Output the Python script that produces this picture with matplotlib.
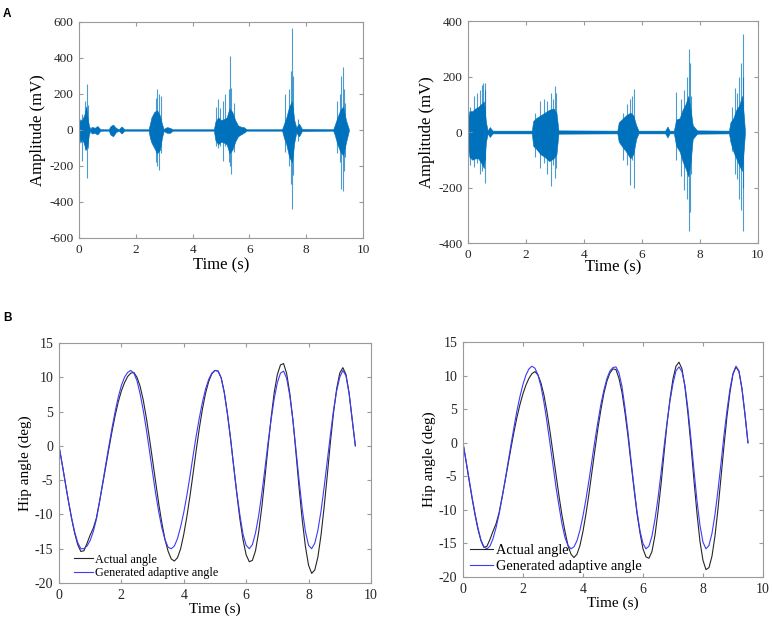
import numpy as np
import matplotlib
matplotlib.use("Agg")
import matplotlib.pyplot as plt

plt.rcParams['font.family'] = ['Liberation Serif', 'DejaVu Serif']
plt.rcParams['axes.unicode_minus'] = False

EMG_BLUE = '#0072BD'

# ---- EMG panels: burst envelopes (t, upper, lower) in mV
emg1_t = [0.00, 0.05, 0.10, 0.15, 0.20, 0.25, 0.30, 0.35, 0.40, 0.45, 0.55, 0.65, 0.75, 0.85,
          1.05, 1.10, 1.20, 1.30, 1.40, 1.50, 1.60, 2.45, 2.50, 2.55, 2.65, 2.75, 2.85, 2.92,
          2.98, 3.10, 3.20, 3.30, 4.75, 4.80, 4.90, 5.00, 5.10, 5.20, 5.30, 5.40, 5.50, 5.60,
          5.70, 5.80, 5.90, 7.15, 7.22, 7.30, 7.40, 7.50, 7.58, 7.65, 7.75, 7.85, 8.95, 9.00,
          9.10, 9.20, 9.30, 9.40, 9.50]
emg1_hi = [40, 60, 50, 70, 90, 130, 70, 25, 5, 18, 12, 22, 5, 4,
           4, 20, 30, 12, 4, 20, 4, 4, 35, 70, 100, 110, 80, 35,
           6, 16, 12, 4, 4, 45, 70, 55, 60, 70, 120, 100, 55, 25,
           18, 16, 4, 4, 35, 70, 130, 160, 55, 15, 35, 6, 4, 25,
           70, 110, 130, 55, 6]
emg1_lo = [-40, -70, -55, -65, -90, -110, -80, -25, -5, -20, -16, -25, -5, -4,
           -4, -25, -35, -12, -4, -20, -4, -4, -45, -70, -100, -130, -110, -45,
           -6, -16, -16, -4, -4, -55, -80, -65, -70, -80, -130, -110, -65, -35,
           -25, -16, -4, -4, -45, -80, -150, -180, -70, -15, -35, -6, -4, -25,
           -80, -120, -140, -70, -6]
# isolated spikes (t, upper, lower)
spk1_t = [0.12, 0.22, 0.28, 0.31, 2.70, 2.76, 2.82, 2.88, 4.84, 4.90, 4.98, 5.08, 5.14,
          5.28, 5.31, 5.35, 5.45, 7.26, 7.40, 7.46, 7.50, 7.53, 7.72, 9.10, 9.18, 9.24,
          9.28, 9.33, 9.38]
spk1_hi = [90, 160, 255, 140, 180, 230, 200, 190, 130, 170, 120, 160, 200,
           230, 410, 235, 150, 200, 230, 330, 565, 300, 60, 160, 200, 300,
           350, 230, 150]
spk1_lo = [-175, -110, -265, -100, -180, -200, -220, -130, -90, -100, -90, -170, -90,
           -180, -200, -245, -120, -120, -200, -300, -440, -250, -60, -130, -180, -330,
           -340, -230, -150]

emg2_t = [0.00, 0.05, 0.15, 0.25, 0.35, 0.45, 0.55, 0.62, 0.68, 0.75, 0.85, 2.20, 2.25,
          2.35, 2.50, 2.65, 2.80, 2.95, 3.05, 3.12, 5.15, 5.20, 5.30, 5.45, 5.60, 5.70,
          5.80, 5.88, 6.80, 6.88, 6.95, 7.10, 7.18, 7.30, 7.40, 7.50, 7.60, 7.68, 7.75,
          7.90, 9.00, 9.05, 9.15, 9.25, 9.35, 9.45, 9.52, 9.55]
emg2_hi = [50, 75, 75, 85, 90, 100, 110, 35, 5, 18, 5, 5, 40,
           50, 60, 70, 80, 85, 70, 6, 5, 35, 45, 60, 70, 60,
           25, 5, 5, 20, 5, 5, 45, 50, 80, 100, 130, 80, 25,
           6, 5, 35, 50, 80, 95, 130, 50, 5]
emg2_lo = [-50, -90, -100, -95, -95, -110, -130, -35, -5, -18, -5, -5, -50,
           -60, -80, -90, -105, -95, -80, -6, -5, -35, -50, -70, -95, -80,
           -25, -5, -5, -20, -5, -5, -50, -70, -105, -130, -160, -105, -25,
           -6, -5, -35, -70, -95, -120, -140, -50, -5]
spk2_t = [0.08, 0.20, 0.30, 0.40, 0.48, 0.51, 0.57, 0.60, 2.30, 2.50, 2.62, 2.72, 2.86,
          2.92, 2.99, 3.04, 5.35, 5.50, 5.60, 5.66, 5.71, 7.18, 7.35, 7.46, 7.55, 7.61,
          7.65, 7.70, 9.10, 9.20, 9.28, 9.35, 9.42, 9.47, 9.50]
spk2_hi = [90, 130, 140, 150, 170, 175, 150, 175, 70, 110, 120, 110, 140,
           120, 165, 140, 70, 100, 120, 130, 155, 145, 120, 150, 200, 300,
           250, 130, 90, 160, 140, 200, 250, 355, 200]
spk2_lo = [-120, -125, -110, -150, -140, -120, -185, -100, -90, -130, -110, -150, -195,
           -120, -165, -130, -100, -120, -190, -100, -200, -100, -160, -210, -240, -355,
           -290, -150, -70, -150, -170, -240, -280, -355, -200]

# ---- hip angle panels, sampled every 0.1 s from 0 to 9.5 s
hip_t = np.linspace(0, 9.5, 96)
actual_1 = [0, -2.6, -5.3, -8.0, -10.5, -12.7, -14.4, -15.4, -15.3, -14.2,
            -13.0, -12.0, -10.5, -8.1, -5.6, -3.0, -0.4, 2.1, 4.4, 6.4,
            8.0, 9.2, 10.1, 10.6, 10.7, 10.0, 8.7, 6.7, 4.1, 1.1,
            -2.1, -5.3, -8.5, -11.3, -13.7, -15.4, -16.5, -16.8, -16.3, -15.0,
            -12.9, -10.3, -7.3, -4.0, -0.6, 2.6, 5.4, 7.7, 9.4, 10.5,
            11.0, 10.9, 9.9, 7.8, 4.7, 1.1, -3.0, -7.0, -10.7, -13.7,
            -15.9, -16.9, -16.7, -15.3, -12.6, -9.0, -4.7, -0.2, 4.1, 7.8,
            10.4, 11.8, 12.0, 10.5, 7.6, 3.7, -1.2, -6.3, -10.9, -14.7,
            -17.4, -18.6, -18.1, -16.2, -13.0, -8.9, -4.3, 0.5, 4.8, 8.3,
            10.6, 11.4, 10.4, 7.7, 3.8, 0]
generated_1 = [0, -2.6, -5.3, -8.0, -10.4, -12.5, -14.1, -15.0, -15.0, -14.6,
               -13.8, -12.5, -10.7, -8.2, -5.4, -2.7, 0.0, 2.6, 5.0, 7.1,
               8.8, 10.0, 10.7, 11.0, 10.6, 9.5, 7.6, 5.2, 2.4, -0.7,
               -3.9, -7.0, -9.7, -12.0, -13.7, -14.8, -15.0, -14.6, -13.5, -11.8,
               -9.7, -7.2, -4.4, -1.4, 1.5, 4.1, 6.4, 8.3, 9.7, 10.6,
               11.0, 10.9, 9.9, 7.7, 4.6, 1.0, -3.0, -6.8, -10.1, -12.9,
               -14.5, -15.0, -14.4, -12.7, -10.2, -7.0, -3.4, 0.4, 3.8, 6.9,
               9.2, 10.6, 10.9, 9.8, 7.3, 3.7, -0.7, -5.2, -9.3, -12.5,
               -14.5, -15.0, -14.2, -12.3, -9.5, -6.0, -2.2, 1.6, 5.2, 8.0,
               10.0, 11.0, 10.2, 7.6, 3.8, 0]
actual_2 = [0, -2.7, -5.5, -8.2, -10.7, -12.9, -14.6, -15.6, -15.4, -14.4,
            -13.2, -12.1, -10.5, -8.2, -5.8, -3.3, -0.8, 1.6, 3.8, 5.7,
            7.3, 8.6, 9.6, 10.3, 10.6, 10.1, 8.9, 7.1, 4.6, 1.7,
            -1.5, -4.7, -7.9, -10.8, -13.2, -15.3, -16.6, -17.1, -16.6, -15.3,
            -13.2, -10.6, -7.6, -4.3, -1.0, 2.2, 5.0, 7.4, 9.2, 10.4,
            11.0, 10.9, 9.6, 7.5, 4.5, 1.0, -3.0, -6.8, -10.5, -13.4,
            -15.8, -17.0, -17.2, -16.2, -13.8, -10.3, -6.3, -1.7, 2.7, 6.5,
            9.5, 11.4, 12.0, 11.0, 8.3, 4.3, -0.4, -5.6, -10.5, -14.7,
            -17.5, -18.9, -18.6, -16.9, -13.9, -9.9, -5.2, -0.5, 3.9, 7.5,
            10.2, 11.3, 10.6, 8.0, 4.2, 0]
generated_2 = [0, -2.6, -5.3, -8.0, -10.5, -12.7, -14.5, -15.5, -15.8, -15.4,
               -14.3, -12.7, -10.7, -8.3, -5.7, -3.0, -0.3, 2.3, 4.8, 6.9,
               8.7, 10.1, 11.0, 11.4, 11.1, 10.1, 8.4, 6.0, 3.1, -0.1,
               -3.3, -6.6, -9.4, -12.1, -14.1, -15.3, -15.8, -15.5, -14.6, -13.0,
               -10.9, -8.4, -5.6, -2.6, 0.4, 3.2, 5.8, 7.9, 9.6, 10.7,
               11.2, 11.3, 10.4, 8.4, 5.2, 1.6, -2.5, -6.5, -10.2, -13.1,
               -15.0, -15.8, -15.4, -13.9, -11.4, -8.3, -4.6, -0.7, 3.0, 6.2,
               8.8, 10.7, 11.3, 10.6, 8.5, 5.0, 0.6, -4.1, -8.6, -12.3,
               -14.8, -15.8, -15.3, -13.5, -10.7, -7.1, -3.1, 1.1, 4.8, 8.0,
               10.3, 11.4, 10.7, 8.1, 4.3, 0]

legend_labels = ['Actual angle', 'Generated adaptive angle']

fig = plt.figure(figsize=(7.72, 6.22), dpi=100)

ax1 = fig.add_axes([0.1023, 0.6174, 0.3679, 0.3473])
ax2 = fig.add_axes([0.6062, 0.6093, 0.3756, 0.3569])
ax3 = fig.add_axes([0.0764, 0.0627, 0.4041, 0.3859])
ax4 = fig.add_axes([0.5997, 0.0723, 0.3886, 0.3778])


def style(ax, tick_size):
    for s in ax.spines.values():
        s.set_color('#9a9a9a')
        s.set_linewidth(0.8)
    ax.tick_params(direction='in', top=True, right=True, length=3,
                   color='#9a9a9a', labelcolor='#262626', labelsize=tick_size, pad=4)


def draw_emg(ax, t, hi, lo, st, shi, slo):
    ax.fill_between(t, lo, hi, color=EMG_BLUE, lw=0.4, edgecolor=EMG_BLUE)
    ax.vlines(st, slo, shi, color=EMG_BLUE, lw=0.8, alpha=0.7)


draw_emg(ax1, emg1_t, emg1_hi, emg1_lo, spk1_t, spk1_hi, spk1_lo)
ax1.set_xlim(0, 10)
ax1.set_ylim(-600, 600)
ax1.set_xticks([0, 2, 4, 6, 8, 10])
ax1.set_yticks([-600, -400, -200, 0, 200, 400, 600])
ax1.set_xlabel('Time (s)', fontsize=12, labelpad=1)
ax1.set_ylabel('Amplitude (mV)', fontsize=12, labelpad=2)
style(ax1, 9.5)

draw_emg(ax2, emg2_t, emg2_hi, emg2_lo, spk2_t, spk2_hi, spk2_lo)
ax2.set_xlim(0, 10)
ax2.set_ylim(-400, 400)
ax2.set_xticks([0, 2, 4, 6, 8, 10])
ax2.set_yticks([-400, -200, 0, 200, 400])
ax2.set_xlabel('Time (s)', fontsize=12, labelpad=-1)
ax2.set_ylabel('Amplitude (mV)', fontsize=12, labelpad=2)
style(ax2, 9.5)

for ax, act, gen, fs, lx in [(ax3, actual_1, generated_1, 8.7, 0.035),
                             (ax4, actual_2, generated_2, 10.4, 0.01)]:
    ax.plot(hip_t, act, color='#262626', lw=0.8, label=legend_labels[0])
    ax.plot(hip_t, gen, color='#3b3bff', lw=0.8, label=legend_labels[1])
    ax.set_xlim(0, 10)
    ax.set_ylim(-20, 15)
    ax.set_xticks([0, 2, 4, 6, 8, 10])
    ax.set_yticks([-20, -15, -10, -5, 0, 5, 10, 15])
    ax.set_xlabel('Time (s)', fontsize=11, labelpad=1)
    ax.set_ylabel('Hip angle (deg)', fontsize=11, labelpad=2)
    style(ax, 10)
    ax.legend(loc='lower left', bbox_to_anchor=(lx, 0.0), frameon=False,
              fontsize=fs, handlelength=1.6, handletextpad=0.2,
              labelspacing=0.15, borderpad=0.2, borderaxespad=0.1)

fig.text(0.004, 0.977, 'A', fontsize=8.5, fontweight='bold', family='Liberation Sans',
         va='center', ha='left')
fig.text(0.004, 0.488, 'B', fontsize=8.5, fontweight='bold', family='Liberation Sans',
         va='center', ha='left')

fig.savefig('out.png', dpi=100)
